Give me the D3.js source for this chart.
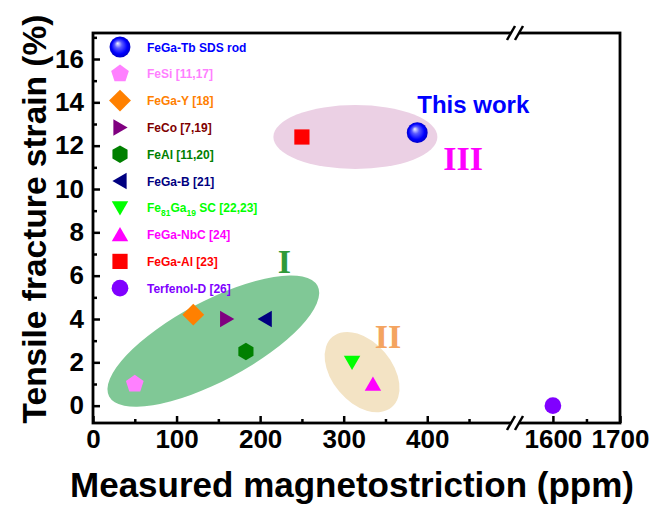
<!DOCTYPE html>
<html>
<head>
<meta charset="utf-8">
<script src="https://cdn.jsdelivr.net/npm/d3@7"></script>
<style>
  html, body { margin: 0; padding: 0; background: #fff; }
  svg { display: block; font-family: "Liberation Sans", Arial, sans-serif; }
</style>
</head>
<body>
<svg id="chart" width="655" height="507"></svg>
<script>
// Tensile fracture strain vs. magnetostriction for Fe-based alloys
const names   = ["FeGa-Tb SDS rod", "FeSi [11,17]", "FeGa-Y [18]", "FeCo [7,19]", "FeAl [11,20]",
                 "FeGa-B [21]", "Fe81Ga19 SC [22,23]", "FeGa-NbC [24]", "FeGa-Al [23]", "Terfenol-D [26]"];
const lambda  = [388, 50, 120, 160, 183, 206, 310, 335, 250, 1600];   // ppm
const strain  = [12.6, 1.0, 4.2, 4.0, 2.5, 4.0, 2.0, 1.0, 12.4, 0.0]; // %
const shapes  = ["sphere", "pentagon", "diamond", "triR", "hexagon", "triL", "triDown", "triUp", "square", "circle"];
const fills   = ["#0000ff", "#ff80ff", "#ff8000", "#800080", "#008000", "#000080", "#00ff00", "#ff00ff", "#ff0000", "#8000ff"];
const textCol = ["#0000ff", "#ff80ff", "#ff8000", "#800000", "#008000", "#000080", "#00ff00", "#ff00ff", "#ff0000", "#8000ff"];

const xTicksLeft  = [0, 100, 200, 300, 400];
const xMinorLeft  = [50, 150, 250, 350, 450];
const xTicksRight = [1600, 1700];
const xMinorRight = [1650];
const yTicks = [0, 2, 4, 6, 8, 10, 12, 14, 16];
const yMinor = [1, 3, 5, 7, 9, 11, 13, 15, 17];

// Group ellipses: centre in data units, radii in px, rotation in degrees
const groupLabels = ["I", "II", "III"];
const groupCx  = [144, 322, 314];
const groupCy  = [2.98, 1.55, 12.4];
const groupRx  = [118, 46, 82];
const groupRy  = [40, 30, 32];
const groupRot = [-28, 50, 0];
const groupFill = ["#80c896", "#f3e3c4", "#ebd0e4"];
const groupLabelX = [229, 353, 443];
const groupLabelY = [6.12, 2.66, 10.87];
const groupLabelCol = ["#2f9a3a", "#f4a460", "#ff00ff"];

const svg = d3.select("#chart");
const plot = { left: 93, right: 620, top: 33, bottom: 423, brk: 515 };

// Broken x axis: two linear segments joined at the break
const xL = d3.scaleLinear().domain([0, 505]).range([plot.left, plot.brk]);
const xR = d3.scaleLinear().domain([1545, 1700]).range([plot.brk + 1, plot.right]);
const x = v => v > 1000 ? xR(v) : xL(v);
const y = d3.scaleLinear().domain([-0.8, 17.2]).range([plot.bottom, plot.top]);

// Sphere gradient
const defs = svg.append("defs");
const grad = defs.append("radialGradient").attr("id", "ball")
  .attr("cx", "0.5").attr("cy", "0.5").attr("r", "0.5")
  .attr("fx", "0.38").attr("fy", "0.32");
grad.append("stop").attr("offset", "0").attr("stop-color", "#f4f4ff");
grad.append("stop").attr("offset", "0.35").attr("stop-color", "#5a5aff");
grad.append("stop").attr("offset", "0.75").attr("stop-color", "#0000ff");
grad.append("stop").attr("offset", "1").attr("stop-color", "#0000c8");

// Group ellipses
const gEll = svg.append("g");
groupLabels.forEach((lab, i) => {
  gEll.append("ellipse")
    .attr("transform", `translate(${x(groupCx[i])},${y(groupCy[i])}) rotate(${groupRot[i]})`)
    .attr("rx", groupRx[i]).attr("ry", groupRy[i])
    .attr("fill", groupFill[i]);
  gEll.append("text")
    .attr("x", x(groupLabelX[i])).attr("y", y(groupLabelY[i]))
    .attr("text-anchor", "middle")
    .attr("font-family", "'Liberation Serif', 'Times New Roman', serif")
    .attr("font-weight", "bold").attr("font-size", 34)
    .attr("fill", groupLabelCol[i])
    .text(lab);
});

// Marker shapes
function drawMarker(g, shape, cx, cy, color, s) {
  const pts = (n, r, rot) => d3.range(n).map(k => {
    const a = rot + k * 2 * Math.PI / n;
    return [cx + r * Math.cos(a), cy + r * Math.sin(a)];
  });
  const poly = p => g.append("polygon").attr("points", p.map(q => q.join(",")).join(" ")).attr("fill", color);
  switch (shape) {
    case "sphere":
      g.append("circle").attr("cx", cx).attr("cy", cy).attr("r", s * 1.1).attr("fill", "url(#ball)"); break;
    case "circle":
      g.append("circle").attr("cx", cx).attr("cy", cy).attr("r", s * 0.88).attr("fill", color); break;
    case "pentagon": poly(pts(5, s * 0.98, -Math.PI / 2)); break;
    case "diamond": poly(pts(4, s * 1.15, -Math.PI / 2)); break;
    case "hexagon": poly(pts(6, s * 0.92, -Math.PI / 2)); break;
    case "square":
      g.append("rect").attr("x", cx - s * 0.8).attr("y", cy - s * 0.8)
        .attr("width", s * 1.6).attr("height", s * 1.6).attr("fill", color); break;
    case "triUp": poly(pts(3, s * 1.0, -Math.PI / 2).map(p => [p[0], p[1] + s * 0.2])); break;
    case "triDown": poly(pts(3, s * 1.0, Math.PI / 2).map(p => [p[0], p[1] - s * 0.2])); break;
    case "triR": poly(pts(3, s * 1.0, 0).map(p => [p[0] - s * 0.2, p[1]])); break;
    case "triL": poly(pts(3, s * 1.0, Math.PI).map(p => [p[0] + s * 0.2, p[1]])); break;
  }
}

// Data points
const gPts = svg.append("g");
names.forEach((n, i) => drawMarker(gPts, shapes[i], x(lambda[i]), y(strain[i]), fills[i], 9.5));

// "This work" annotation
svg.append("text").attr("x", x(388)).attr("y", y(13.5))
  .attr("font-weight", "bold").attr("font-size", 24).attr("fill", "#0000ff")
  .text("This work");

// Legend
const gLeg = svg.append("g");
const legX = 120, legY0 = 47, legDy = 26.8;
names.forEach((n, i) => {
  const cy = legY0 + i * legDy;
  drawMarker(gLeg, shapes[i], legX, cy, fills[i], 9.5);
  const t = gLeg.append("text").attr("x", 147).attr("y", cy + 4.5)
    .attr("font-weight", "bold").attr("font-size", 12).attr("fill", textCol[i]);
  if (n.startsWith("Fe81Ga19")) {
    t.append("tspan").text("Fe");
    t.append("tspan").attr("dy", 4).attr("font-size", 8.5).text("81");
    t.append("tspan").attr("dy", -4).text("Ga");
    t.append("tspan").attr("dy", 4).attr("font-size", 8.5).text("19");
    t.append("tspan").attr("dy", -4).text(" SC [22,23]");
  } else {
    t.text(n);
  }
});

// Axes
const axStyle = g => {
  g.select(".domain").remove();
  g.selectAll(".tick line").attr("stroke", "#000").attr("stroke-width", 2.5);
  g.selectAll("text").attr("font-weight", "bold").attr("font-size", 26)
    .attr("font-family", "'Liberation Sans', Arial, sans-serif").attr("fill", "#000");
};
svg.append("g").attr("transform", `translate(0,${plot.bottom})`)
  .call(d3.axisBottom(xL).tickValues(xTicksLeft).tickSize(-7).tickPadding(7).tickFormat(d3.format("d")))
  .call(axStyle);
svg.append("g").attr("transform", `translate(0,${plot.bottom})`)
  .call(d3.axisBottom(xR).tickValues(xTicksRight).tickSize(-7).tickPadding(7).tickFormat(d3.format("d")))
  .call(axStyle);
svg.append("g").attr("transform", `translate(0,${plot.bottom})`)
  .call(d3.axisBottom(xL).tickValues(xMinorLeft).tickSize(-4).tickFormat(""))
  .call(axStyle);
svg.append("g").attr("transform", `translate(0,${plot.bottom})`)
  .call(d3.axisBottom(xR).tickValues(xMinorRight).tickSize(-4).tickFormat(""))
  .call(axStyle);
svg.append("g").attr("transform", `translate(${plot.left},0)`)
  .call(d3.axisLeft(y).tickValues(yTicks).tickSize(-7).tickPadding(9).tickFormat(d3.format("d")))
  .call(axStyle);
svg.append("g").attr("transform", `translate(${plot.left},0)`)
  .call(d3.axisLeft(y).tickValues(yMinor).tickSize(-4).tickFormat(""))
  .call(axStyle);

// Frame
svg.append("rect").attr("x", plot.left).attr("y", plot.top)
  .attr("width", plot.right - plot.left).attr("height", plot.bottom - plot.top)
  .attr("fill", "none").attr("stroke", "#000").attr("stroke-width", 2.8);

// Axis break marks on top and bottom edges
[plot.top, plot.bottom].forEach(yy => {
  const g = svg.append("g").attr("transform", `translate(${plot.brk},${yy})`);
  g.append("rect").attr("x", -4).attr("y", -3).attr("width", 8).attr("height", 6).attr("fill", "#fff");
  [-4, 4].forEach(dx => g.append("line")
    .attr("x1", dx - 4).attr("y1", 7).attr("x2", dx + 4).attr("y2", -7)
    .attr("stroke", "#000").attr("stroke-width", 2.5));
});

// Axis titles
svg.append("text").attr("x", 352).attr("y", 497).attr("text-anchor", "middle")
  .attr("font-weight", "bold").attr("font-size", 35).attr("fill", "#000")
  .text("Measured magnetostriction (ppm)");
svg.append("text").attr("transform", "translate(46,219) rotate(-90)").attr("text-anchor", "middle")
  .attr("font-weight", "bold").attr("font-size", 33.5).attr("fill", "#000")
  .text("Tensile fracture strain (%)");
</script>
</body>
</html>
